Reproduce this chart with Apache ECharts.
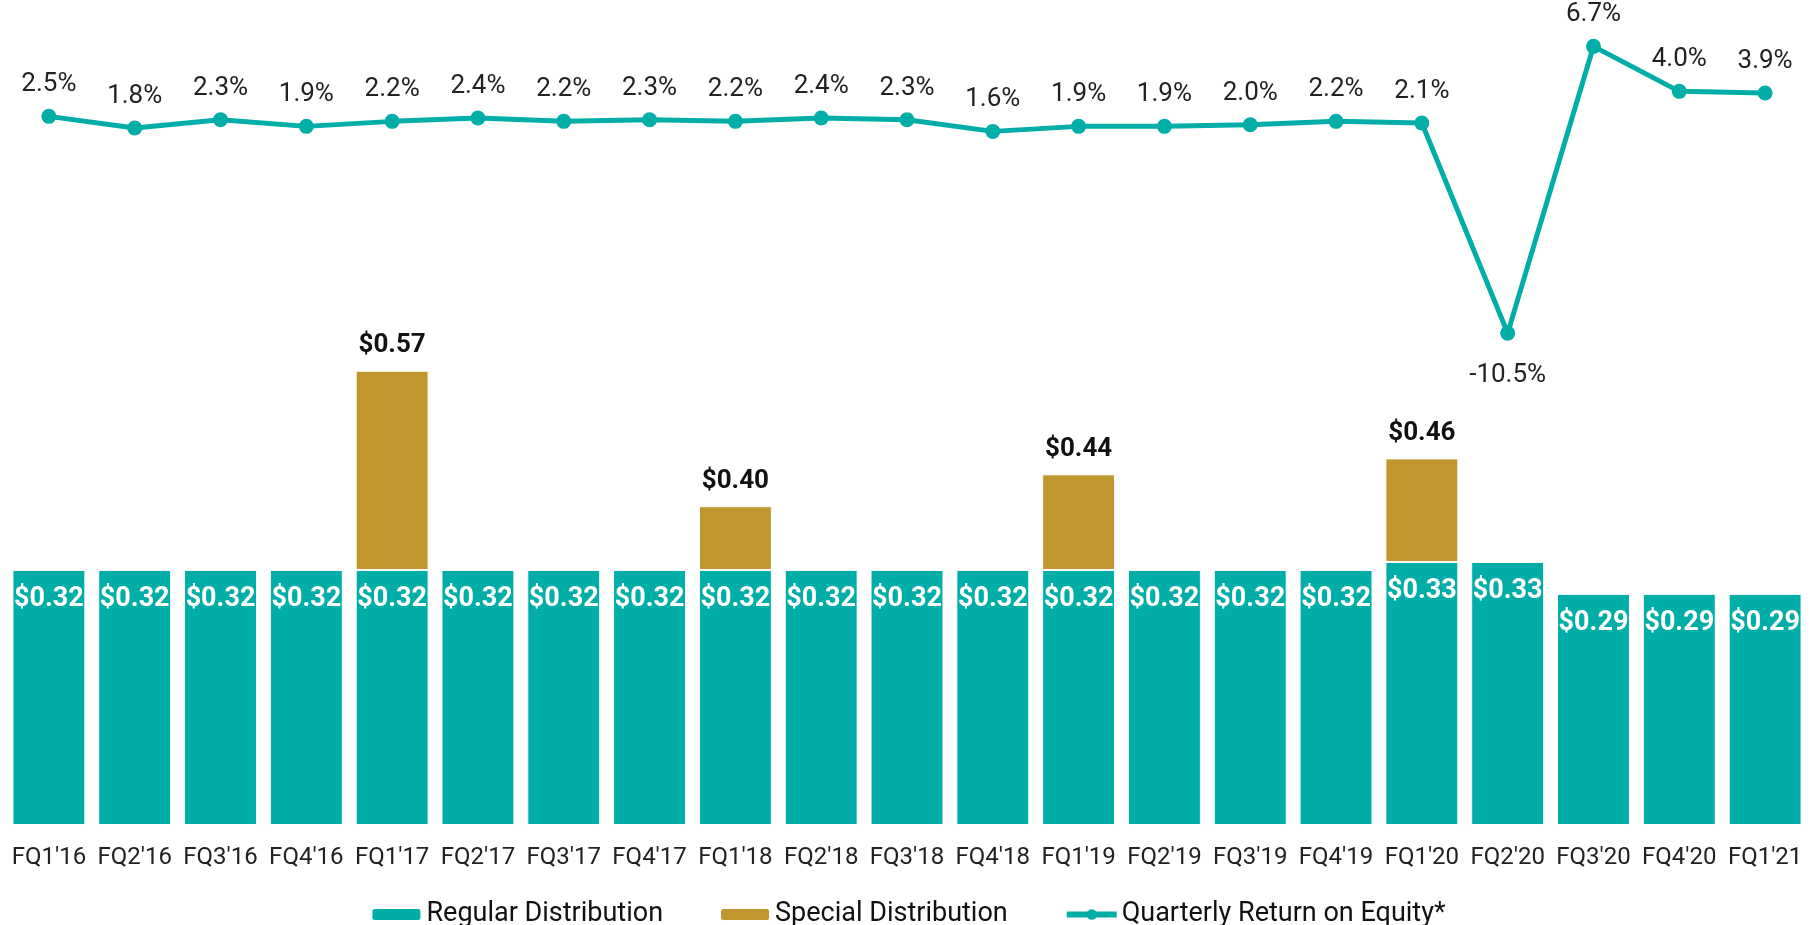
<!DOCTYPE html>
<html>
<head>
<meta charset="utf-8">
<script src="https://cdn.jsdelivr.net/npm/echarts@6/dist/echarts.min.js"></script>
<style>
  html, body { margin: 0; padding: 0; background: #fff; }
  #chart { width: 1816px; height: 925px; }
</style>
</head>
<body>
<div id="chart"></div>
<script>
var quarters = ["FQ1'16", "FQ2'16", "FQ3'16", "FQ4'16", "FQ1'17", "FQ2'17", "FQ3'17", "FQ4'17",
  "FQ1'18", "FQ2'18", "FQ3'18", "FQ4'18", "FQ1'19", "FQ2'19", "FQ3'19", "FQ4'19",
  "FQ1'20", "FQ2'20", "FQ3'20", "FQ4'20", "FQ1'21"];
var regular = [0.32, 0.32, 0.32, 0.32, 0.32, 0.32, 0.32, 0.32, 0.32, 0.32, 0.32, 0.32,
  0.32, 0.32, 0.32, 0.32, 0.33, 0.33, 0.29, 0.29, 0.29];
var special = ['-', '-', '-', '-', 0.25, '-', '-', '-', 0.08, '-', '-', '-',
  0.12, '-', '-', '-', 0.13, '-', '-', '-', '-'];
var roe = [2.5, 1.8, 2.3, 1.9, 2.2, 2.4, 2.2, 2.3, 2.2, 2.4, 2.3, 1.6,
  1.9, 1.9, 2.0, 2.2, 2.1, -10.5, 6.7, 4.0, 3.9];

var teal = '#00AEA7';
var gold = '#BF972E';

var roeData = roe.map(function (v) {
  if (v < 0) {
    return { value: v, label: { position: 'bottom', distance: 22 } };
  }
  return v;
});

var option = {
  animation: false,
  textStyle: { fontFamily: 'Roboto' },
  grid: { left: 6, right: 8, top: 28, bottom: 100 },
  legend: {
    left: 'center',
    top: 896,
    itemWidth: 50,
    itemHeight: 13,
    itemGap: 56,
    textStyle: { fontSize: 27, color: '#111', fontFamily: 'Roboto' },
    data: [
      { name: 'Regular Distribution' },
      { name: 'Special Distribution' },
      { name: 'Quarterly Return on Equity*', lineStyle: { width: 6 }, itemStyle: { color: teal } }
    ]
  },
  xAxis: {
    type: 'category',
    data: quarters,
    axisLine: { show: false },
    axisTick: { show: false },
    axisLabel: { fontSize: 24, color: '#222', margin: 21, interval: 0 }
  },
  yAxis: [{
    type: 'value',
    min: 0,
    max: 1,
    show: false,
    splitLine: { show: false }
  }, {
    type: 'value',
    min: -40,
    max: 7.8,
    show: false,
    splitLine: { show: false }
  }],
  series: [{
    name: 'Regular Distribution',
    type: 'bar',
    stack: 'dist',
    barCategoryGap: '15%',
    data: regular,
    itemStyle: { color: teal, borderColor: '#fff', borderWidth: 1 },
    label: {
      show: true,
      position: 'insideTop',
      distance: 16,
      color: '#fff',
      fontWeight: 'bold',
      fontSize: 27,
      formatter: function (p) { return '$' + p.value.toFixed(2); }
    }
  }, {
    name: 'Special Distribution',
    type: 'bar',
    stack: 'dist',
    data: special,
    itemStyle: { color: gold, borderColor: '#fff', borderWidth: 1 },
    label: {
      show: true,
      position: 'top',
      distance: 12,
      color: '#111',
      fontWeight: 'bold',
      fontSize: 26,
      formatter: function (p) {
        return '$' + (regular[p.dataIndex] + p.value).toFixed(2);
      }
    }
  }, {
    name: 'Quarterly Return on Equity*',
    type: 'line',
    yAxisIndex: 1,
    data: roeData,
    symbol: 'circle',
    symbolSize: 15,
    lineStyle: { color: teal, width: 5 },
    itemStyle: { color: teal },
    label: {
      show: true,
      position: 'top',
      distance: 11,
      color: '#222',
      fontSize: 26,
      formatter: function (p) { return p.value.toFixed(1) + '%'; }
    }
  }]
};

var myChart = echarts.init(document.getElementById('chart'));
myChart.setOption(option);
</script>
</body>
</html>
